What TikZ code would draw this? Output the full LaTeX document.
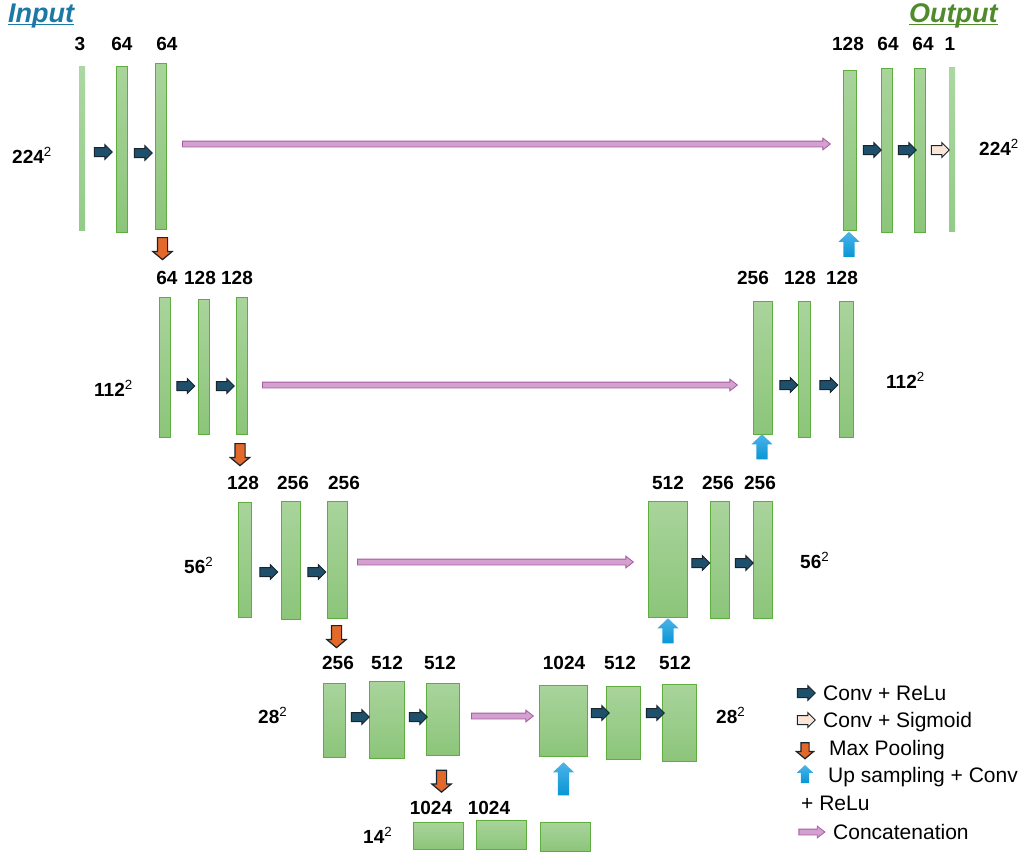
\documentclass[tikz,border=0pt]{standalone}
\usepackage{fontspec}
\setmainfont{Liberation Sans}
\usetikzlibrary{shapes.arrows}
\usetikzlibrary{calc}

\definecolor{barfill}{HTML}{A9D49C}
\definecolor{barshade}{HTML}{8CC57A}
\definecolor{barline}{HTML}{5DAE3F}
\definecolor{flatfill}{HTML}{ACD7A3}
\definecolor{flatshade}{HTML}{94CB88}
\definecolor{convfill}{HTML}{1E4F6B}
\definecolor{arrowline}{HTML}{18242E}
\definecolor{sigfill}{HTML}{FBE5D6}
\definecolor{poolfill}{HTML}{E2692A}
\definecolor{upfill}{HTML}{4CB3E8}
\definecolor{upshade}{HTML}{0896D5}
\definecolor{catfill}{HTML}{D4A0D0}
\definecolor{catline}{HTML}{A65BA2}
\definecolor{inputcol}{HTML}{1C78A4}
\definecolor{outputcol}{HTML}{4F8A2B}

\begin{document}
\begin{tikzpicture}[x=1pt,y=-1pt,
  bar/.style={draw=barline,line width=0.9pt,top color=barfill,bottom color=barshade,inner sep=0pt},
  flatbar/.style={top color=flatfill,bottom color=flatshade,inner sep=0pt},
  num/.style={font=\fontsize{19}{22}\selectfont\bfseries,anchor=base,inner sep=0pt},
  res/.style={font=\fontsize{19}{22}\selectfont\bfseries,anchor=base west,inner sep=0pt},
  key/.style={font=\fontsize{21}{24}\selectfont,anchor=base west,inner sep=0pt},
  conv/.style={single arrow,draw=arrowline,line width=1pt,fill=convfill,minimum height=18pt,single arrow head extend=3pt,inner sep=4pt},
  sigm/.style={conv,fill=sigfill},
  pool/.style={single arrow,shape border rotate=270,draw=arrowline,line width=1.2pt,fill=poolfill,minimum height=22pt,single arrow head extend=4.5pt,single arrow tip angle=100,inner sep=4.5pt},
  upconv/.style={single arrow,shape border rotate=90,top color=upfill,bottom color=upshade,minimum height=25pt,single arrow head extend=5pt,single arrow tip angle=93,inner sep=5.5pt},
  concat/.style={single arrow,draw=catline,line width=0.8pt,fill=catfill,single arrow head extend=3pt,single arrow tip angle=76,inner sep=2.5pt}]
\useasboundingbox (0,0) rectangle (1023,857);

% titles
\node[font=\fontsize{27}{30}\selectfont\bfseries\itshape,text=inputcol,anchor=base west,inner sep=0pt] (inp) at (8,22) {Input};
\node[font=\fontsize{27}{30}\selectfont\bfseries\itshape,text=outputcol,anchor=base west,inner sep=0pt] (outp) at (909,22) {Output};
\draw[inputcol,line width=1.8pt] ([yshift=-2.5pt]inp.base west) -- ([yshift=-2.5pt]inp.base east);
\draw[outputcol,line width=1.8pt] ([yshift=-2.5pt]outp.base west) -- ([yshift=-2.5pt]outp.base east);

% level 1
\node[flatbar,minimum width=6pt,minimum height=164pt] (e1a) at (82,148) {};
\node[bar,minimum width=11pt,minimum height=166pt] (e1b) at (121.5,149) {};
\node[bar,minimum width=11pt,minimum height=166pt] (e1c) at (160.5,146) {};
\node[bar,minimum width=13pt,minimum height=160pt] (d1a) at (849.5,150) {};
\node[bar,minimum width=11pt,minimum height=164pt] (d1b) at (886.5,150) {};
\node[bar,minimum width=11pt,minimum height=164pt] (d1c) at (919.5,150) {};
\node[flatbar,minimum width=6pt,minimum height=164pt] (d1d) at (952,149) {};
\node[num] (l1a) at (80,50) {3};
\node[num] (l1b) at (122,50) {64};
\node[num] (l1c) at (167,50) {64};
\node[num] (m1a) at (848,50) {128};
\node[num] (m1b) at (888,50) {64};
\node[num] (m1c) at (923,50) {64};
\node[num] (m1d) at (950,50) {1};
\node[res] (r1l) at (12,163) {224\textsuperscript{\mdseries 2}};
\node[res] (r1r) at (979,155) {224\textsuperscript{\mdseries 2}};
\node[conv] (c1a) at (101,152) {};
\node[conv] (c1b) at (141,153) {};
\node[conv] (c1c) at (870,150) {};
\node[conv] (c1d) at (905,150) {};
\node[sigm] (s1) at (938,150) {};

% level 2
\node[bar,minimum width=11pt,minimum height=140pt] (e2a) at (164.5,367) {};
\node[bar,minimum width=11pt,minimum height=135pt] (e2b) at (203.5,366.5) {};
\node[bar,minimum width=11pt,minimum height=137pt] (e2c) at (241.5,365.5) {};
\node[bar,minimum width=19pt,minimum height=133pt] (d2a) at (762.5,367.5) {};
\node[bar,minimum width=12pt,minimum height=136pt] (d2b) at (804,369) {};
\node[bar,minimum width=14pt,minimum height=136pt] (d2c) at (846,369) {};
\node[num] (l2a) at (167,284) {64};
\node[num] (l2b) at (200,284) {128};
\node[num] (l2c) at (237,284) {128};
\node[num] (m2a) at (753,284) {256};
\node[num] (m2b) at (800,284) {128};
\node[num] (m2c) at (842,284) {128};
\node[res] (r2l) at (94,396) {112\textsuperscript{\mdseries 2}};
\node[res] (r2r) at (886,388) {112\textsuperscript{\mdseries 2}};
\node[conv] (c2a) at (183.5,386) {};
\node[conv] (c2b) at (223,386) {};
\node[conv] (c2c) at (786.5,385) {};
\node[conv] (c2d) at (826.5,385) {};

% level 3
\node[bar,minimum width=13pt,minimum height=115pt] (e3a) at (244.5,559.5) {};
\node[bar,minimum width=19pt,minimum height=118pt] (e3b) at (290.5,560) {};
\node[bar,minimum width=20pt,minimum height=117pt] (e3c) at (337,559.5) {};
\node[bar,minimum width=39pt,minimum height=116pt] (d3a) at (667.5,559) {};
\node[bar,minimum width=19pt,minimum height=117pt] (d3b) at (719.5,559.5) {};
\node[bar,minimum width=19pt,minimum height=117pt] (d3c) at (762.5,559.5) {};
\node[num] (l3a) at (243,489) {128};
\node[num] (l3b) at (293,489) {256};
\node[num] (l3c) at (344,489) {256};
\node[num] (m3a) at (668,489) {512};
\node[num] (m3b) at (718,489) {256};
\node[num] (m3c) at (760,489) {256};
\node[res] (r3l) at (184,573) {56\textsuperscript{\mdseries 2}};
\node[res] (r3r) at (800,568) {56\textsuperscript{\mdseries 2}};
\node[conv] (c3a) at (266.5,572) {};
\node[conv] (c3b) at (314.5,572) {};
\node[conv] (c3c) at (698.5,563) {};
\node[conv] (c3d) at (742,563) {};

% level 4
\node[bar,minimum width=22pt,minimum height=74pt] (e4a) at (334,720) {};
\node[bar,minimum width=35pt,minimum height=77pt] (e4b) at (386.5,719.5) {};
\node[bar,minimum width=33pt,minimum height=72pt] (e4c) at (442.5,719) {};
\node[bar,minimum width=48pt,minimum height=71pt] (d4a) at (563,720.5) {};
\node[bar,minimum width=34pt,minimum height=73pt] (d4b) at (623,722.5) {};
\node[bar,minimum width=34pt,minimum height=77pt] (d4c) at (679,722.5) {};
\node[num] (l4a) at (338,669) {256};
\node[num] (l4b) at (387,669) {512};
\node[num] (l4c) at (440,669) {512};
\node[num] (m4a) at (564,669) {1024};
\node[num] (m4b) at (620,669) {512};
\node[num] (m4c) at (675,669) {512};
\node[res] (r4l) at (258,723) {28\textsuperscript{\mdseries 2}};
\node[res] (r4r) at (716,723) {28\textsuperscript{\mdseries 2}};
\node[conv] (c4a) at (358,717) {};
\node[conv] (c4b) at (416,717) {};
\node[conv] (c4c) at (598,713) {};
\node[conv] (c4d) at (653,713) {};

% bottom
\node[bar,minimum width=50pt,minimum height=27pt] (e5a) at (438,835.5) {};
\node[bar,minimum width=50pt,minimum height=29pt] (e5b) at (501,834.5) {};
\node[bar,minimum width=50pt,minimum height=29pt] (e5c) at (565,836.5) {};
\node[num] (l5a) at (431,814) {1024};
\node[num] (l5b) at (489,814) {1024};
\node[res] (r5) at (363,843) {14\textsuperscript{\mdseries 2}};

% pooling and up sampling
\node[pool] (p1) at (162.5,246.5) {};
\node[pool] (p2) at (240,452.5) {};
\node[pool] (p3) at (336.5,634.5) {};
\node[pool] (p4) at (441.5,779) {};
\node[upconv] (u1) at (849,247) {};
\node[upconv] (u2) at (762,449.5) {};
\node[upconv] (u3) at (668,633.5) {};
\node[upconv,minimum height=33pt] (u4) at (563.5,781.5) {};

% skip connections
\coordinate (k1s) at (182,144);
\coordinate (k1e) at (830,144);
\coordinate (k2s) at (262,385);
\coordinate (k2e) at (737,385);
\coordinate (k3s) at (357,562);
\coordinate (k3e) at (633,562);
\coordinate (k4s) at (471,716);
\coordinate (k4e) at (533,716);
\path let \p1=($(k1e)-(k1s)$) in (k1s) node[concat,anchor=tail,minimum height=\x1] (k1) {};
\path let \p1=($(k2e)-(k2s)$) in (k2s) node[concat,anchor=tail,minimum height=\x1] (k2) {};
\path let \p1=($(k3e)-(k3s)$) in (k3s) node[concat,anchor=tail,minimum height=\x1] (k3) {};
\path let \p1=($(k4e)-(k4s)$) in (k4s) node[concat,anchor=tail,minimum height=\x1] (k4) {};

% legend
\node[conv] (g1) at (804,693) {};
\node[key] (t1) at (823,700) {Conv + ReLu};
\node[sigm] (g2) at (804,720) {};
\node[key] (t2) at (823,727) {Conv + Sigmoid};
\node[pool,minimum height=16pt,inner sep=3.5pt,single arrow head extend=4.5pt] (g3) at (805,749) {};
\node[key] (t3) at (829,755) {Max Pooling};
\node[upconv,minimum height=18pt,inner sep=4pt,single arrow head extend=4pt] (g4) at (805,776) {};
\node[key] (t4) at (828,782) {Up sampling + Conv};
\node[key] (t5) at (801,810) {+ ReLu};
\node[concat,minimum height=26pt] (g5) at (810,832) {};
\node[key] (t6) at (833,839) {Concatenation};
\end{tikzpicture}
\end{document}
